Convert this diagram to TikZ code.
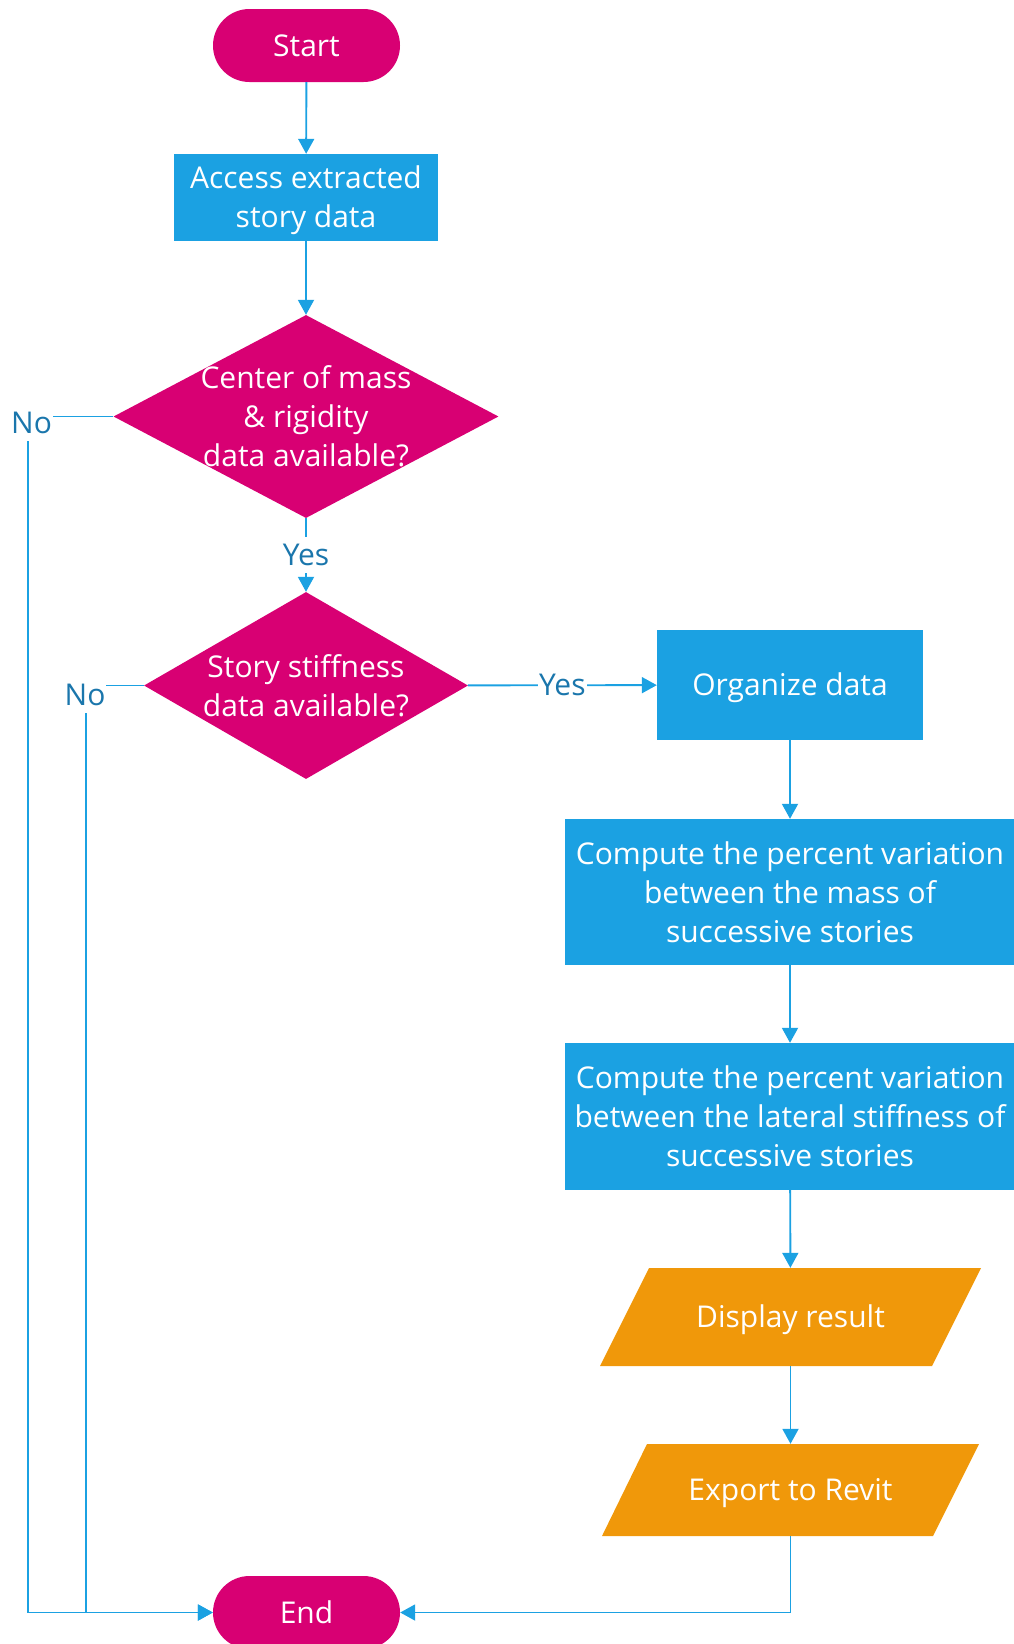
\documentclass[tikz,border=0pt]{standalone}
\usepackage{fontspec}
\setmainfont{Open Sans}
\usetikzlibrary{shapes.geometric,arrows.meta}
\definecolor{mag}{HTML}{D80073}
\definecolor{cyanb}{HTML}{1BA1E2}
\definecolor{amber}{HTML}{F0980A}
\definecolor{lbl}{HTML}{1A76AC}
\begin{document}
\begin{tikzpicture}[x=1pt,y=-1pt,
  txt/.style={text=white,font=\fontsize{30}{39}\selectfont,align=center,inner sep=0pt},
  term/.style={txt,fill=mag,rounded corners=36.5pt,minimum width=187pt,minimum height=73pt},
  proc/.style={txt,fill=cyanb},
  dec/.style={diamond,fill=mag,inner sep=0pt},
  io/.style={txt,minimum height=90pt},
  conn/.style={draw=cyanb,line width=1.9pt,-{Triangle[length=15pt,width=16pt]}},
  lab/.style={text=lbl,fill=white,font=\fontsize{30}{34}\selectfont,inner xsep=1pt,inner ysep=7pt}
]
\useasboundingbox (0,0) rectangle (1014,1644);
\node[term] (start) at (306.5,45.5) {Start};
\node[proc,minimum width=264pt,minimum height=87pt] (access) at (306,197.5) {};
\node[txt] (acct) at ([yshift=-3pt]access.center) {Access extracted\\story data};
\node[dec,minimum width=385pt,minimum height=203pt] (d1) at (306,416.5) {};
\node[txt] (d1t) at (d1.center) {Center of mass\\\& rigidity\\data available?};
\node[dec,minimum width=324pt,minimum height=187pt] (d2) at (306,685.5) {};
\node[txt] (d2t) at (d2.center) {Story stiffness\\data available?};
\node[proc,minimum width=266pt,minimum height=110pt] (org) at (790,685) {};
\node[txt] (orgt) at ([yshift=-3pt]org.center) {Organize data};
\node[proc,minimum width=450pt,minimum height=146pt] (c1) at (790,892) {Compute the percent variation\\between the mass of\\successive stories};
\node[proc,minimum width=450pt,minimum height=147pt] (c2) at (790,1116.5) {Compute the percent variation\\between the lateral stiffness of\\successive stories};
\fill[amber] (649,1268) -- (981,1268) -- (932,1366) -- (600,1366) -- cycle;
\node[io,minimum height=98pt] (disp) at (790.5,1317) {};
\node[txt] (dispt) at ([yshift=-3pt]disp.center) {Display result};
\fill[amber] (647,1444) -- (979,1444) -- (933,1536) -- (602,1536) -- cycle;
\node[io,minimum height=92pt] (exp) at (790.5,1490) {};
\node[txt] (expt) at ([yshift=-3pt]exp.center) {Export to Revit};
\node[term] (end) at (306.5,1612.5) {End};
\coordinate (n1) at (28,416.5);
\coordinate (n2) at (86,685.5);
\draw[conn] (start) -- (access);
\draw[conn] (access) -- (d1);
\draw[conn] (d1) -- node[lab]{Yes} (d2);
\draw[conn] (d2) -- node[lab]{Yes} (org);
\draw[conn] (org) -- (c1);
\draw[conn] (c1) -- (c2);
\draw[conn] (c2) -- (disp);
\draw[conn] (disp) -- (exp);
\draw[conn] (exp) |- (end);
\draw[conn] (d1.west) -- (n1) |- (end.west);
\draw[conn] (d2.west) -- (n2) |- (end.west);
\node[lab] (no1) at (31.5,423) {No};
\node[lab] (no2) at (85,695) {No};
\end{tikzpicture}
\end{document}
